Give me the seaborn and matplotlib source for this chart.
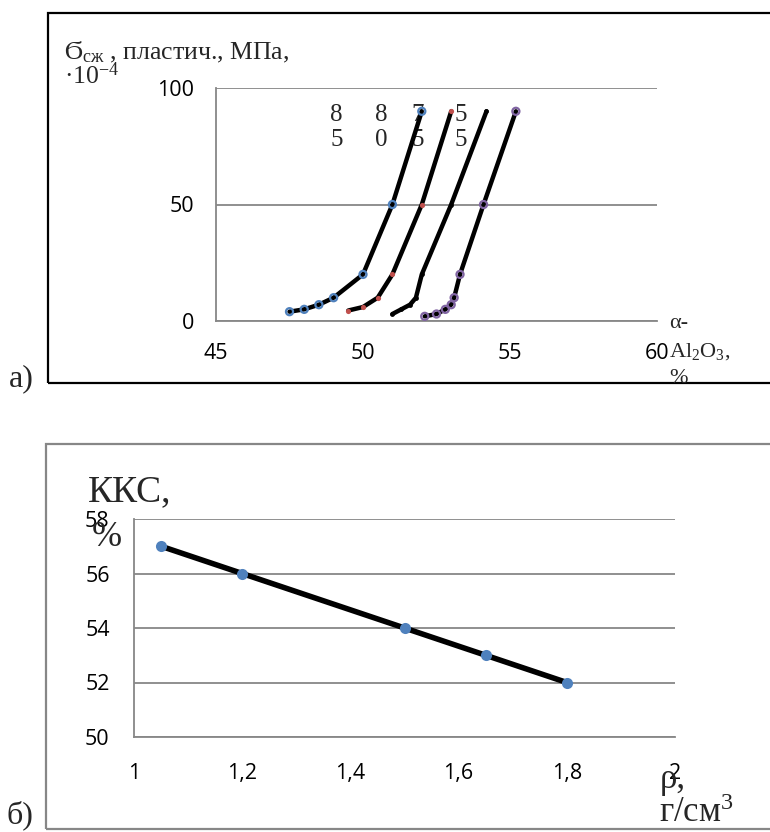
import numpy as np
import pandas as pd
import matplotlib
matplotlib.use("Agg")
import matplotlib.pyplot as plt
from matplotlib.patches import Rectangle
import seaborn as sns

# ---------------- data (chart а) ----------------
s85_x = [47.5, 48.0, 48.5, 49.0, 50.0, 51.0, 52.0]
s85_y = [4, 5, 7, 10, 20, 50, 90]
s80_x = [49.5, 50.0, 50.5, 51.0, 52.0, 53.0]
s80_y = [4.5, 6, 10, 20, 50, 90]
s75_x = [51.0, 51.3, 51.6, 51.8, 52.0, 53.0, 54.2]
s75_y = [3, 5, 7, 10, 20, 50, 90]
s55_x = [52.1, 52.5, 52.8, 53.0, 53.1, 53.3, 54.1, 55.2]
s55_y = [2, 3, 5, 7, 10, 20, 50, 90]
series_names = ["85", "80", "75", "55"]
label_x = [49.1, 50.62, 51.86, 53.33]
label_y = [83, 83, 83, 83]
xticks_a = [45, 50, 55, 60]
yticks_a = [0, 50, 100]

# ---------------- data (chart б) ----------------
rho = [1.05, 1.2, 1.5, 1.65, 1.8]
kks = [57, 56, 54, 53, 52]
xticks_b = [1, 1.2, 1.4, 1.6, 1.8, 2]
xticklabels_b = ["1", "1,2", "1,4", "1,6", "1,8", "2"]
yticks_b = [50, 52, 54, 56, 58]

sns.set_theme(style="white")
plt.rcParams['font.family'] = ['Open Sans', 'DejaVu Sans']
plt.rcParams['mathtext.fontset'] = 'custom'
plt.rcParams['mathtext.rm'] = 'Liberation Serif'
plt.rcParams['mathtext.it'] = 'Liberation Serif:italic'
plt.rcParams['mathtext.bf'] = 'Liberation Serif:bold'

W, H = 770, 832
fig = plt.figure(figsize=(W / 100, H / 100), dpi=100)
SERIF = ['Liberation Serif', 'DejaVu Serif']
GRAY = '#878787'
TICK_FS = 15.5

def px(x, y):
    return x / W, 1 - y / H

def ftext(x, y, s, **kw):
    fx, fy = px(x, y)
    fig.text(fx, fy, s, family=SERIF, **kw)

# frames
fig.patches.append(Rectangle(px(48, 383), (800 - 48) / W, (383 - 13) / H,
                             transform=fig.transFigure, fill=False,
                             edgecolor='black', lw=1.6, zorder=0))
fig.patches.append(Rectangle(px(46, 829), (800 - 46) / W, (829 - 444) / H,
                             transform=fig.transFigure, fill=False,
                             edgecolor=GRAY, lw=1.6, zorder=0))

def style_axes(ax):
    for s in ['top', 'right']:
        ax.spines[s].set_visible(False)
    for s in ['left', 'bottom']:
        ax.spines[s].set_color(GRAY)
        ax.spines[s].set_linewidth(1.3)
    ax.grid(axis='y', color=GRAY, lw=1.3)
    ax.grid(axis='x', visible=False)
    ax.tick_params(axis='both', direction='out', length=6.5, width=1.3,
                   color=GRAY, labelsize=TICK_FS, labelcolor='black')
    ax.set_facecolor('none')
    ax.set_xlabel('')
    ax.set_ylabel('')

# ---------------- chart а ----------------
axA = fig.add_axes([216 / W, 1 - 321 / H, (657 - 216) / W, (321 - 88) / H])
xs = [s85_x, s80_x, s75_x, s55_x]
ys = [s85_y, s80_y, s75_y, s55_y]
dfA = pd.DataFrame({
    'x': np.concatenate(xs),
    'y': np.concatenate(ys),
    'series': np.concatenate([[n] * len(v) for n, v in zip(series_names, xs)]),
})
sns.lineplot(data=dfA, x='x', y='y', units='series', estimator=None, sort=False,
             color='black', lw=3.2, ax=axA, zorder=3, legend=False)
mk = {
    "85": dict(marker='o', s=26, facecolors='none', edgecolors='#4F81BD', linewidths=1.6),
    "80": dict(marker='o', s=14, color='#C0504D', linewidths=0),
    "75": dict(marker='o', s=12, color='black', linewidths=0),
    "55": dict(marker='o', s=26, facecolors='none', edgecolors='#8064A2', linewidths=1.6),
}
for n in series_names:
    sub = dfA[dfA['series'] == n]
    sns.scatterplot(x=sub['x'], y=sub['y'], ax=axA, zorder=4, legend=False, **mk[n])
for n, lx, ly in zip(series_names, label_x, label_y):
    axA.text(lx, ly, n[0] + "\n" + n[1], family=SERIF, fontsize=18,
             ha='center', va='center', linespacing=1.2, zorder=2)
axA.set_xlim(45, 60)
axA.set_ylim(0, 100)
axA.set_xticks(xticks_a)
axA.set_yticks(yticks_a)
style_axes(axA)
axA.tick_params(axis='x', pad=9)
axA.tick_params(axis='y', pad=9)

ftext(64, 52, 'Ϭ$_{\\mathrm{сж}}$ , пластич., МПа,', fontsize=18.5, va='center')
ftext(64, 76, '·10$^{\\mathrm{-4}}$', fontsize=18.5, va='center')
ftext(669, 323, 'α-', fontsize=16, va='center')
ftext(669, 352, 'Al$_{\\mathrm{2}}$O$_{\\mathrm{3}}$,', fontsize=16, va='center')
ftext(669, 378, '%', fontsize=16, va='center')
ftext(9, 379, 'а)', fontsize=23, va='center')

# ---------------- chart б ----------------
axB = fig.add_axes([134 / W, 1 - 737 / H, (675 - 134) / W, (737 - 519) / H])
dfB = pd.DataFrame({'rho': rho, 'kks': kks})
sns.lineplot(data=dfB, x='rho', y='kks', color='black', lw=4, ax=axB, zorder=3)
sns.scatterplot(data=dfB, x='rho', y='kks', color='#4F81BD', s=64, linewidth=0,
                ax=axB, zorder=4)
axB.set_xlim(1, 2)
axB.set_ylim(50, 58)
axB.set_xticks(xticks_b)
axB.set_xticklabels(xticklabels_b)
axB.set_yticks(yticks_b)
style_axes(axB)
axB.tick_params(axis='x', pad=12)
axB.tick_params(axis='y', pad=11)

ftext(88, 492, 'ККС,', fontsize=27, va='center')
ftext(92, 538, '%', fontsize=26, va='center')
ftext(660, 780, 'ρ,', fontsize=25, va='center')
ftext(659, 813, 'г/см$^{\\mathrm{3}}$', fontsize=25, va='center')
ftext(7, 815, 'б)', fontsize=23, va='center')

fig.savefig('out.png', dpi=100)
